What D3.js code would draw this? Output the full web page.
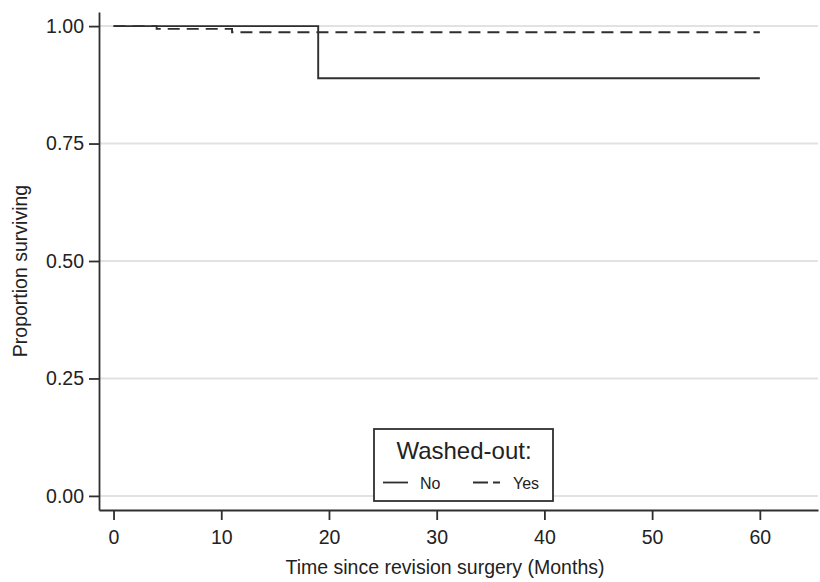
<!DOCTYPE html>
<html><head><meta charset="utf-8">
<script src="https://cdn.jsdelivr.net/npm/d3@7"></script>
<style>body{margin:0;background:#fff}svg{display:block;font-family:"Liberation Sans",Arial,sans-serif}</style>
</head><body><svg id="c" width="820" height="582"></svg>
<script>
// Kaplan-Meier step data
const noTimes = [0, 19, 60];
const noSurv = [1.0, 0.889, 0.889];
const yesTimes = [0, 4, 11, 60];
const yesSurv = [1.0, 0.994, 0.987, 0.987];
const xTicks = [0, 10, 20, 30, 40, 50, 60];
const yTicks = [0, 0.25, 0.5, 0.75, 1.0];
const legendLabels = ["No", "Yes"];

const svg = d3.select("#c");
const x = d3.scaleLinear().domain([-1.35, 65.4]).range([99, 818]);
const y = d3.scaleLinear().domain([-0.03, 1.03]).range([510, 12]);
const ink = "#2f2f2f";

// gridlines
svg.append("g").selectAll("line").data(yTicks).join("line")
  .attr("x1", x.range()[0]).attr("x2", x.range()[1])
  .attr("y1", d => y(d)).attr("y2", d => y(d))
  .attr("stroke", "#e2e2e2").attr("stroke-width", 2);

// axes
const xAxis = svg.append("g").attr("transform", `translate(0,${y.range()[0]})`)
  .call(d3.axisBottom(x).tickValues(xTicks).tickSizeInner(10).tickSizeOuter(0).tickPadding(10).tickFormat(d3.format("d")));
const yAxis = svg.append("g").attr("transform", `translate(${x.range()[0]},0)`)
  .call(d3.axisLeft(y).tickValues(yTicks).tickSizeInner(10).tickSizeOuter(0).tickPadding(5).tickFormat(d3.format(".2f")));
[xAxis, yAxis].forEach(g => {
  g.select(".domain").attr("stroke", ink).attr("stroke-width", 1.8);
  g.selectAll(".tick line").attr("stroke", ink).attr("stroke-width", 1.8);
  g.selectAll(".tick text").attr("fill", "#222").style("font-size", "19.5px");
});

// step lines
function stepData(times, surv){ return times.map((t,i)=>({t, s: surv[i]})); }
const line = d3.line().x(d => x(d.t)).y(d => y(d.s)).curve(d3.curveStepAfter);
svg.append("path").datum(stepData(noTimes, noSurv)).attr("d", line)
  .attr("fill", "none").attr("stroke", ink).attr("stroke-width", 1.9);
svg.append("path").datum(stepData(yesTimes, yesSurv)).attr("d", line)
  .attr("fill", "none").attr("stroke", ink).attr("stroke-width", 1.9)
  .attr("stroke-dasharray", "12,7");

// axis titles
svg.append("text").attr("x", 445).attr("y", 574).attr("text-anchor", "middle")
  .attr("fill", "#222").style("font-size", "19.5px").text("Time since revision surgery (Months)");
svg.append("text").attr("transform", "translate(27,271) rotate(-90)").attr("text-anchor", "middle")
  .attr("fill", "#222").style("font-size", "19.5px").text("Proportion surviving");

// legend
const lg = svg.append("g");
lg.append("rect").attr("x", 374).attr("y", 429).attr("width", 179).attr("height", 72)
  .attr("fill", "#fff").attr("stroke", ink).attr("stroke-width", 1.8);
lg.append("text").attr("x", 464).attr("y", 459).attr("text-anchor", "middle")
  .attr("fill", "#222").style("font-size", "24px").text("Washed-out:");
lg.append("line").attr("x1", 383).attr("x2", 408).attr("y1", 482.5).attr("y2", 482.5)
  .attr("stroke", ink).attr("stroke-width", 1.8);
lg.append("text").attr("x", 420).attr("y", 488.5).attr("fill", "#222").style("font-size", "16px").text(legendLabels[0]);
lg.append("line").attr("x1", 473).attr("x2", 500).attr("y1", 482.5).attr("y2", 482.5)
  .attr("stroke", ink).attr("stroke-width", 1.8).attr("stroke-dasharray", "15,5");
lg.append("text").attr("x", 513).attr("y", 488.5).attr("fill", "#222").style("font-size", "16px").text(legendLabels[1]);
</script></body></html>
